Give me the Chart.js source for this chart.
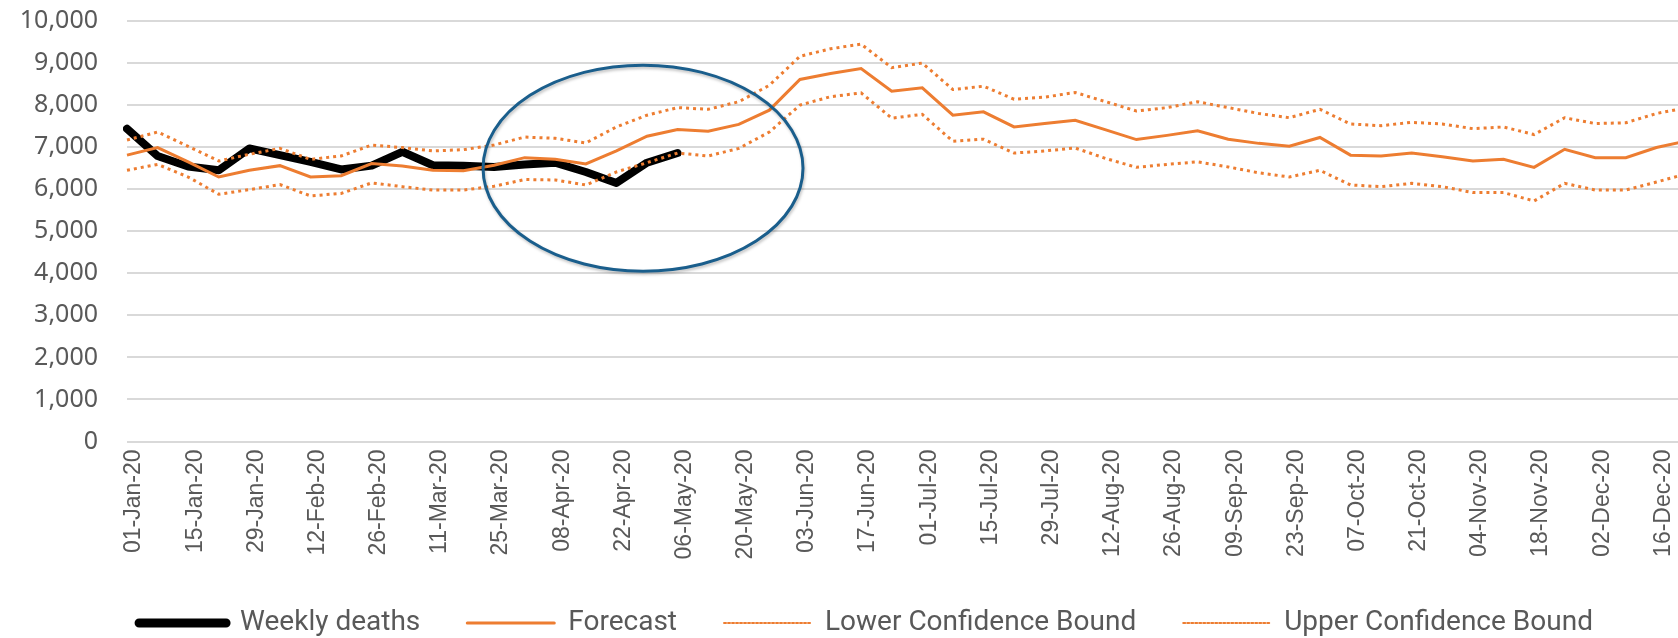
<!DOCTYPE html>
<html>
<head>
<meta charset="utf-8">
<title>Weekly deaths forecast</title>
<script src="https://cdn.jsdelivr.net/npm/chart.js@4.4.1/dist/chart.umd.min.js"></script>
<style>
    html, body { margin: 0; padding: 0; background: #fff; overflow: hidden; }
    /* wider and taller than the window on purpose: the chart is cut off at the right like the original */
    #wrap { width: 1732px; height: 647px; }
</style>
</head>
<body>
<div id="wrap"><canvas id="chart"></canvas></div>
<script>
// one entry per week, only every second one is shown on the axis
var weeks = [
    '01-Jan-20', '08-Jan-20', '15-Jan-20', '22-Jan-20', '29-Jan-20', '05-Feb-20', '12-Feb-20', '19-Feb-20',
    '26-Feb-20', '04-Mar-20', '11-Mar-20', '18-Mar-20', '25-Mar-20', '01-Apr-20', '08-Apr-20', '15-Apr-20',
    '22-Apr-20', '29-Apr-20', '06-May-20', '13-May-20', '20-May-20', '27-May-20', '03-Jun-20', '10-Jun-20',
    '17-Jun-20', '24-Jun-20', '01-Jul-20', '08-Jul-20', '15-Jul-20', '22-Jul-20', '29-Jul-20', '05-Aug-20',
    '12-Aug-20', '19-Aug-20', '26-Aug-20', '02-Sep-20', '09-Sep-20', '16-Sep-20', '23-Sep-20', '30-Sep-20',
    '07-Oct-20', '14-Oct-20', '21-Oct-20', '28-Oct-20', '04-Nov-20', '11-Nov-20', '18-Nov-20', '25-Nov-20',
    '02-Dec-20', '09-Dec-20', '16-Dec-20', '23-Dec-20'
];

var weeklyDeaths = [7440, 6790, 6540, 6450, 6970, 6810, 6650, 6470, 6560, 6890,
    6570, 6560, 6530, 6590, 6630, 6410, 6150, 6630, 6860];

var forecast = [6810, 6990, 6650, 6290, 6450, 6560, 6290, 6320, 6610, 6550,
    6450, 6440, 6570, 6750, 6710, 6600, 6910, 7260, 7420, 7380,
    7540, 7880, 8610, 8750, 8870, 8330, 8410, 7760, 7840, 7480,
    7560, 7640, 7410, 7180, 7280, 7390, 7190, 7090, 7020, 7230,
    6810, 6790, 6860, 6770, 6670, 6710, 6520, 6950, 6750, 6750,
    6990, 7150];

var lowerBound = [6450, 6590, 6290, 5880, 5990, 6110, 5840, 5900, 6150, 6060,
    5980, 5980, 6070, 6230, 6220, 6100, 6410, 6630, 6860, 6790,
    6970, 7360, 8000, 8200, 8290, 7690, 7780, 7140, 7190, 6860,
    6910, 6980, 6730, 6520, 6590, 6650, 6530, 6390, 6290, 6450,
    6100, 6060, 6140, 6060, 5920, 5920, 5720, 6140, 5980, 5980,
    6170, 6370];

var upperBound = [7170, 7360, 7020, 6670, 6830, 6970, 6710, 6790, 7050, 6990,
    6910, 6940, 7050, 7240, 7210, 7100, 7480, 7760, 7940, 7900,
    8080, 8470, 9160, 9340, 9450, 8890, 9000, 8370, 8450, 8140,
    8190, 8300, 8080, 7860, 7940, 8080, 7940, 7800, 7700, 7900,
    7550, 7510, 7590, 7550, 7440, 7480, 7300, 7700, 7560, 7580,
    7800, 7940];

var yTicks = [0, 1000, 2000, 3000, 4000, 5000, 6000, 7000, 8000, 9000, 10000];

// the hand drawn ring around the last actual weeks, in axis units
var ring = { week: 16.87, value: 6500, weeks: 5.23, values: 2450 };

var orange = '#ED7D31';
var grey = '#595959';

// Draws the blue ellipse on top of the lines
var ringPlugin = {
    id: 'ring',
    afterDatasetsDraw: function(chart) {
        var x = chart.scales.x;
        var y = chart.scales.y;
        var cx = x.getPixelForValue(ring.week);
        var cy = y.getPixelForValue(ring.value);
        var rx = x.getPixelForValue(ring.week + ring.weeks) - cx;
        var ry = cy - y.getPixelForValue(ring.value + ring.values);
        var ctx = chart.ctx;

        ctx.save();
        ctx.shadowColor = 'rgba(0,0,0,0.25)';
        ctx.shadowBlur = 3;
        ctx.shadowOffsetX = 1;
        ctx.shadowOffsetY = 2;
        ctx.strokeStyle = '#1a5e8c';
        ctx.lineWidth = 3;
        ctx.beginPath();
        ctx.ellipse(cx, cy, rx, ry, 0, 0, Math.PI * 2);
        ctx.stroke();
        ctx.restore();
    }
};

var ctx = document.getElementById('chart');

var chart = new Chart(ctx, {
    type: 'line',
    data: {
        labels: weeks,
        datasets: [{
            label: 'Weekly deaths',
            data: weeklyDeaths,
            borderColor: '#000000',
            borderWidth: 8,
            borderJoinStyle: 'round',
            borderCapStyle: 'round',
            order: 4,
            legendWidth: 9,
            legendDash: []
        }, {
            label: 'Forecast',
            data: forecast,
            borderColor: orange,
            borderWidth: 3,
            order: 3,
            legendWidth: 3,
            legendDash: []
        }, {
            label: 'Lower Confidence Bound',
            data: lowerBound,
            borderColor: orange,
            borderWidth: 3,
            borderDash: [3, 4],
            order: 2,
            legendWidth: 2,
            legendDash: [2, 2]
        }, {
            label: 'Upper Confidence Bound',
            data: upperBound,
            borderColor: orange,
            borderWidth: 3,
            borderDash: [3, 4],
            order: 1,
            legendWidth: 2,
            legendDash: [2, 2]
        }]
    },
    options: {
        responsive: true,
        maintainAspectRatio: false,
        devicePixelRatio: 1,
        animation: false,
        elements: {
            point: { radius: 0, hoverRadius: 0 },
            line: { tension: 0, fill: false }
        },
        layout: {
            padding: { top: 21, right: 0, bottom: 0, left: 0 }
        },
        scales: {
            x: {
                offset: false,
                grid: { display: false, drawTicks: false },
                border: { display: false },
                ticks: {
                    autoSkip: false,
                    maxRotation: 90,
                    minRotation: 90,
                    padding: 8,
                    labelOffset: 7,
                    color: grey,
                    font: { family: 'Liberation Sans', size: 23 },
                    callback: function(value, index) {
                        return index % 2 === 0 ? weeks[index] : '';
                    }
                },
                afterFit: function(scale) {
                    scale.height = 120.5;
                }
            },
            y: {
                min: 0,
                max: 10000,
                // invisible tick marks make the gap between the labels and the plot
                grid: { color: '#d9d9d9', lineWidth: 2, drawTicks: true, tickLength: 29, tickColor: 'rgba(0,0,0,0)' },
                border: { display: false },
                ticks: {
                    padding: 0,
                    color: grey,
                    font: { family: 'Noto Sans', size: 25 },
                    callback: function(value) {
                        return value.toLocaleString('en-US');
                    }
                },
                afterBuildTicks: function(axis) {
                    axis.ticks = yTicks.map(function(v) { return { value: v }; });
                },
                afterFit: function(scale) {
                    scale.width = 127;
                }
            },
            // empty strip on the right, it only moves the plot edge past the window
            spare: {
                type: 'linear',
                position: 'right',
                grid: { display: false, drawTicks: false },
                border: { display: false },
                ticks: { display: false },
                afterFit: function(scale) {
                    scale.width = 45;
                }
            }
        },
        plugins: {
            tooltip: { enabled: false },
            legend: {
                position: 'bottom',
                labels: {
                    boxWidth: 87,
                    boxHeight: 0,
                    padding: 47,
                    color: grey,
                    font: { family: 'Roboto', size: 28 },
                    // keep the data order in the legend, drawing order is set by "order"
                    generateLabels: function(chart) {
                        return chart.data.datasets.map(function(ds, i) {
                            return {
                                text: ds.label,
                                fillStyle: 'rgba(0,0,0,0)',
                                strokeStyle: ds.borderColor,
                                lineWidth: ds.legendWidth,
                                lineDash: ds.legendDash,
                                lineCap: 'round',
                                lineJoin: 'round',
                                fontColor: grey,
                                hidden: false,
                                datasetIndex: i
                            };
                        });
                    }
                }
            }
        }
    },
    plugins: [ringPlugin]
});
</script>
</body>
</html>
